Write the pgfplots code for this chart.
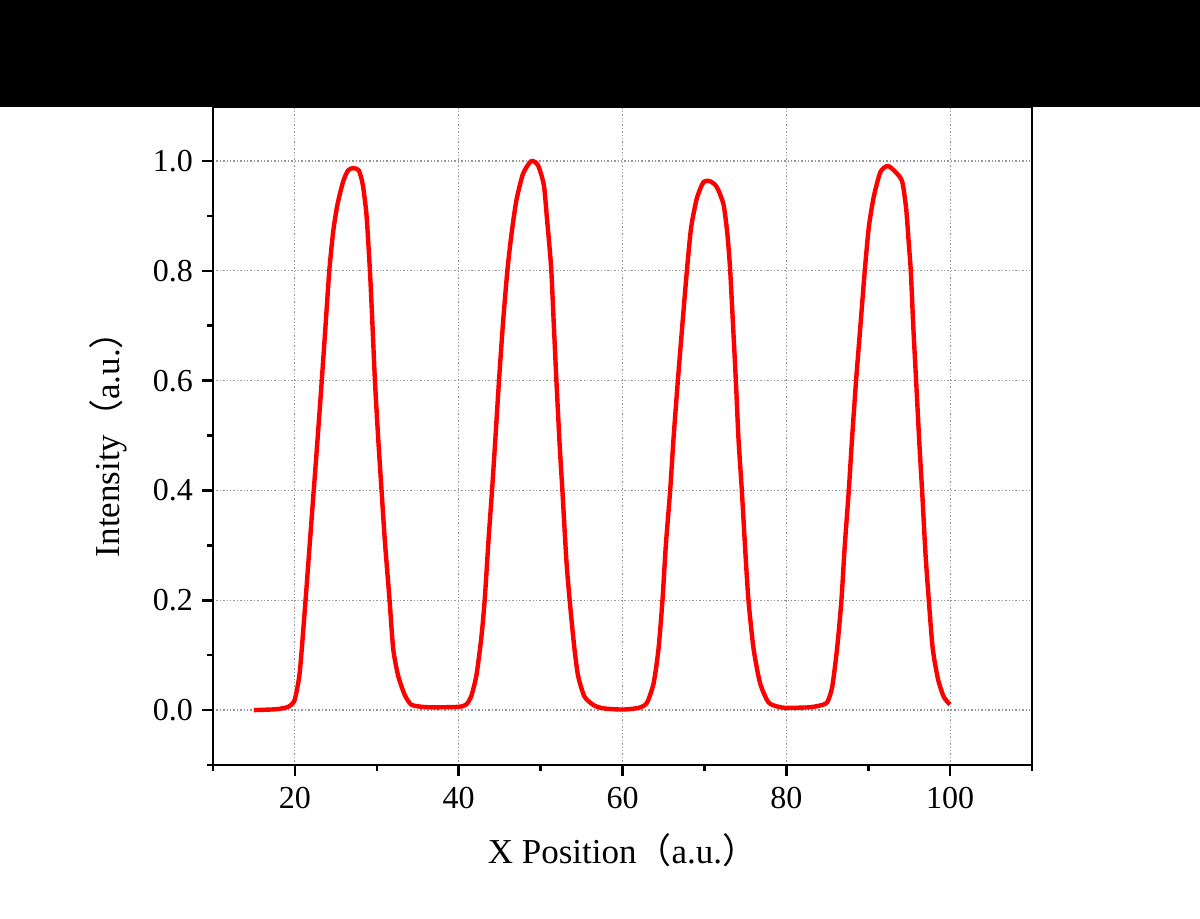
\documentclass[border=0pt]{standalone}
\usepackage{pgfplots}
\pgfplotsset{compat=1.18}
\usepackage{fontspec}
\setmainfont{Liberation Serif}
\newfontfamily\cjk{Noto Sans CJK SC}
\begin{document}
\begin{tikzpicture}
\useasboundingbox (0,0) rectangle (600pt,459pt);
\begin{axis}[
  at={(106.5pt,76.5pt)}, anchor=south west,
  scale only axis, width=409.5pt, height=329.45pt,
  xmin=10, xmax=110, ymin=-0.1, ymax=1.1,
  xtick={20,40,60,80,100}, minor xtick={10,30,50,70,90,110},
  ytick={0,0.2,0.4,0.6,0.8,1.0}, minor ytick={-0.1,0.1,0.3,0.5,0.7,0.9,1.1},
  xtick pos=bottom, ytick pos=left, tick align=outside,
  major tick length=5.5pt, minor tick length=2.8pt,
  every tick/.style={black, line width=1.3pt},
  axis line style={black, line width=1.4pt},
  grid=major,
  major grid style={draw={rgb,255:red,150;green,150;blue,150}, line width=0.6pt, dash pattern=on 0.7pt off 1.0pt},
  /pgf/number format/assume math mode=true,
  yticklabel style={/pgf/number format/fixed, /pgf/number format/fixed zerofill, /pgf/number format/precision=1, xshift=-1pt},
  ticklabel style={font=\fontsize{16pt}{18pt}\selectfont},
  xticklabel style={yshift=-2pt},
  xlabel={X Position{\cjk （}a.u.{\cjk ）}},
  ylabel={Intensity{\cjk （}a.u.{\cjk ）}},
  label style={font=\fontsize{17.5pt}{20pt}\selectfont},
  xlabel style={at={(axis description cs:0.5,0)}, anchor=base, yshift=-49pt},
  ylabel style={at={(axis description cs:-0.1136,0.5)}, anchor=base},
]
\addplot[color={rgb,255:red,255;green,0;blue,0}, line width=2.2pt, line join=round, smooth, tension=0.4] coordinates {
(15,0.000) (17,0.001) (18,0.002) (19,0.005) (19.5,0.009) (20,0.020) (20.6,0.07)
(21.3,0.20) (21.8,0.30) (22.3,0.40) (22.8,0.50) (23.28,0.60) (23.74,0.70)
(24.2,0.80) (24.68,0.872) (25.2,0.921) (25.9,0.963) (26.5,0.983) (27.1,0.987)
(27.8,0.983) (28.3,0.956) (28.75,0.90) (29.16,0.80) (29.44,0.712) (29.77,0.60)
(30.17,0.495) (30.58,0.40) (30.99,0.307) (31.56,0.20) (32.0,0.112) (32.6,0.063)
(33.4,0.028) (34.2,0.010) (35.5,0.006) (37,0.005) (40,0.006) (40.9,0.010)
(41.5,0.024) (42.16,0.063) (42.77,0.133) (43.17,0.20) (43.66,0.314) (44.07,0.40)
(44.48,0.495) (44.92,0.60) (45.41,0.705) (45.94,0.80) (46.43,0.865) (47.04,0.928)
(47.86,0.977) (48.87,1.000) (49.69,0.992) (50.4,0.956) (50.75,0.90) (51.05,0.85)
(51.31,0.80) (51.62,0.70) (51.93,0.60) (52.33,0.482) (52.66,0.40) (53.15,0.272) (53.55,0.20)
(54.08,0.119) (54.57,0.063) (55.38,0.024) (56.6,0.008) (57.8,0.003) (60,0.001)
(61.95,0.004) (62.97,0.013) (63.8,0.049) (64.4,0.112) (64.88,0.20) (65.29,0.30)
(65.82,0.40) (66.23,0.495) (66.76,0.60) (67.3,0.70) (67.86,0.80) (68.38,0.879)
(69.08,0.932) (69.9,0.962) (70.7,0.963) (71.5,0.953) (72.33,0.921) (72.82,0.865)
(73.15,0.80) (73.5,0.70) (73.84,0.60) (74.16,0.495) (74.57,0.40) (74.98,0.293)
(75.38,0.20) (76.0,0.112) (76.8,0.049) (77.83,0.014) (79.05,0.006) (80,0.004)
(82.7,0.005) (84.0,0.008) (84.98,0.014) (85.6,0.042) (86.2,0.112) (86.73,0.20)
(87.14,0.30) (87.63,0.40) (88.03,0.495) (88.52,0.60) (89.05,0.70) (89.58,0.80)
(90.07,0.879) (90.68,0.935) (91.49,0.980) (92.39,0.991) (93.33,0.980) (94.14,0.963)
(94.63,0.914) (94.95,0.851) (95.2,0.80) (95.5,0.70) (95.85,0.60) (96.26,0.482)
(96.58,0.40) (96.99,0.286) (97.4,0.20) (97.88,0.112) (98.53,0.056) (99.23,0.024)
(100,0.010)
};
\end{axis}
\fill[black] (0,405.5pt) rectangle (600pt,459pt);
\end{tikzpicture}
\end{document}
